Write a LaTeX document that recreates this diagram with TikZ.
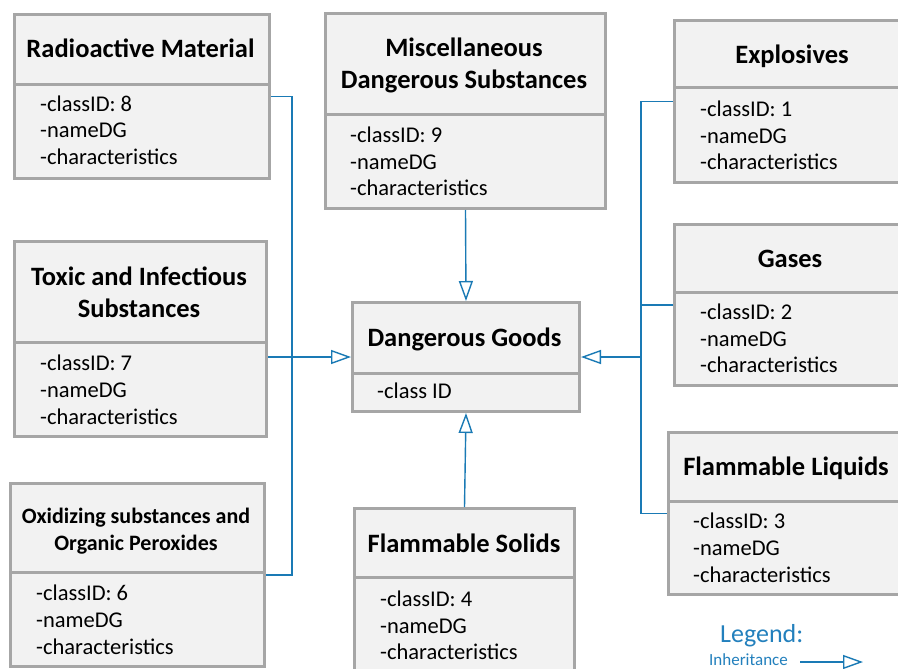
\documentclass[tikz,border=0pt]{standalone}
\usepackage{fontspec}
\setmainfont{Carlito}
\usetikzlibrary{arrows.meta}
\definecolor{bordergray}{HTML}{A6A6A6}
\definecolor{boxfill}{HTML}{F2F2F2}
\definecolor{linkblue}{HTML}{1A7AB5}
\definecolor{legblue}{HTML}{2380BD}
\tikzset{
  cls/.style={draw=bordergray, line width=3pt, fill=boxfill, inner sep=0pt, anchor=north west},
  divline/.style={draw=bordergray, line width=3pt},
  ttl/.style={font=\bfseries\fontsize{26.5}{32}\selectfont, align=center, inner sep=0pt, anchor=mid},
  ttlsmall/.style={font=\bfseries\fontsize{22}{27}\selectfont, align=center, inner sep=0pt, anchor=mid},
  attr/.style={font=\fontsize{22.5}{27}\selectfont, inner sep=0pt, anchor=mid west},
  link/.style={draw=linkblue, line width=1.4pt},
  inh/.style={link, -{Triangle[open, length=20pt, width=14pt, line width=1.4pt, fill=white]}},
}
\newcommand{\classbox}[6]{%
  \node[cls, minimum width={#4-#2}, minimum height={#5-#3}] (#1) at (#2,#3) {};
  \draw[divline] (#2,#6) -- (#4,#6);
}
\newcommand{\threeattrs}[6]{%
  \node[attr] (#1-a) at (#2,#3+5) {-classID: #6};
  \node[attr] (#1-b) at (#2,#4+5) {-nameDG};
  \node[attr] (#1-c) at (#2,#5+5) {-characteristics};
}
\begin{document}
\begin{tikzpicture}[x=1pt,y=-1pt]
\useasboundingbox (0,0) rectangle (898,669);
\clip (0,0) rectangle (898,669);
\fill[white] (0,0) rectangle (898,669);

% Radioactive Material
\classbox{rad}{13}{13}{268}{177}{85}
\node[ttl] (rad-t) at (140.5,55) {Radioactive Material};
\threeattrs{rad}{40}{104}{130}{157}{8}

% Miscellaneous
\classbox{misc}{324}{12}{604}{207}{115}
\node[ttl] (misc-t) at (464,86) {Miscellaneous\\Dangerous Substances};
\threeattrs{misc}{350}{135}{162}{188}{9}

% Explosives
\classbox{expl}{673}{19}{911}{181}{88}
\node[ttl] (expl-t) at (792,61) {Explosives};
\threeattrs{expl}{700}{109}{136}{162}{1}

% Toxic
\classbox{tox}{13}{240}{265}{435}{342}
\node[ttl] (tox-t) at (139,315) {Toxic and Infectious\\Substances};
\threeattrs{tox}{40}{363}{390}{417}{7}

% Dangerous Goods
\classbox{dg}{351}{301}{578}{410}{373}
\node[ttl] (dg-t) at (464.5,344) {Dangerous Goods};
\node[attr] (dg-a) at (377,396) {-class ID};

% Gases
\classbox{gas}{673}{223}{908}{384}{292}
\node[ttl] (gas-t) at (790,265) {Gases};
\threeattrs{gas}{700}{312}{339}{365}{2}

% Flammable Liquids
\classbox{fl}{667}{431}{905}{593}{501}
\node[ttl] (fl-t) at (786,473) {Flammable Liquids};
\threeattrs{fl}{693}{521}{548}{575}{3}

% Oxidizing
\classbox{ox}{9}{482}{263}{665}{572}
\node[ttlsmall] (ox-t) at (136,548) {Oxidizing substances and\\Organic Peroxides};
\threeattrs{ox}{36}{593}{620}{647}{6}

% Flammable Solids
\classbox{fs}{353}{507}{573}{685}{577}
\node[ttl] (fs-t) at (464,550) {Flammable Solids};
\threeattrs{fs}{380}{599}{626}{652}{4}

% connectors, left bus
\coordinate (lbus) at (292,0);
\draw[link] (rad.east) -- (rad.east -| lbus) -- (ox.east -| lbus) -- (ox.east);
\draw[inh] (tox.east |- dg.west) -- (dg.west);

% connectors, right bus
\coordinate (rbus) at (641,0);
\draw[link] (expl.west) -- (expl.west -| rbus) -- (fl.west -| rbus) -- (fl.west);
\draw[link] (gas.west) -- (gas.west -| rbus);
\draw[inh] (dg.east -| rbus) -- (dg.east);

% vertical
\draw[inh] (misc.south) -- (dg.north);
\draw[inh] (fs.north) -- (dg.south);

% legend
\node[font=\fontsize{26}{30}\selectfont, text=legblue, inner sep=0pt, anchor=mid west] (leg) at (720,640) {Legend:};
\node[font=\fontsize{17}{20}\selectfont, text=legblue, inner sep=0pt, anchor=mid west] (leginh) at (709,663) {Inheritance};
\coordinate (legA) at (800,662);
\coordinate (legB) at (863,662);
\draw[inh] (legA) -- (legB);
\end{tikzpicture}
\end{document}
